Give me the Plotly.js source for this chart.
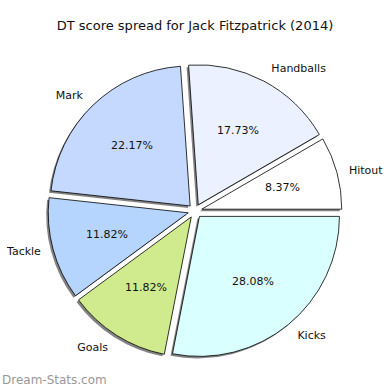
<!DOCTYPE html>
<html><head><meta charset="utf-8">
<script src="https://cdn.plot.ly/plotly-3.0.1.min.js"></script>
<style>html,body{margin:0;padding:0;background:#fff}#chart{width:390px;height:390px}</style>
</head><body><div id="chart"></div>
<script>
var categories = ["Hitout", "Handballs", "Mark", "Tackle", "Goals", "Kicks"];
var values = [8.37, 17.73, 22.17, 11.82, 11.82, 28.08];
var colors = ["#ffffff", "#ebf1ff", "#c5d9ff", "#b5d5ff", "#d0eb8d", "#daffff"];
var titleText = "DT score spread for Jack Fitzpatrick (2014)";
var watermark = "Dream-Stats.com";

var total = values.reduce(function(a,b){return a+b;}, 0);
var rot = 90 - 360 * values[0] / total;
var PULL = 0.05;
var pulls = categories.map(function(){return PULL;});
var W = 390;
function box(cx, cy, half) {
  return {x: [(cx - half)/W, (cx + half)/W], y: [1 - (cy + half)/W, 1 - (cy - half)/W]};
}
var CX = 195, CY = 211, HALF = 147;
var common = {type: "pie", labels: categories, values: values, sort: false,
  direction: "counterclockwise", rotation: rot, pull: pulls, hoverinfo: "none", showlegend: false};
var clear = categories.map(function(){return "rgba(0,0,0,0)";});

var shadow = Object.assign({}, common, {
  domain: box(CX - 2, CY + 2, HALF),
  marker: {colors: categories.map(function(){return "rgba(90,90,90,0.75)";}), line: {width: 0}},
  textinfo: "none"
});
var main = Object.assign({}, common, {
  domain: box(CX, CY, HALF),
  marker: {colors: colors, line: {color: "#000", width: 0.8}},
  textinfo: "none"
});
var outer = Object.assign({}, common, {
  domain: box(CX, CY, HALF + 9),
  marker: {colors: clear, line: {width: 0}},
  textinfo: "label", textposition: "outside",
  textfont: {family: "DejaVu Sans", size: 11, color: "#111"}
});

// percentage labels placed at 0.6 of the radius along each slice's bisector
var R = HALF / (1 + PULL);
var cum = 0;
var pctAnn = values.map(function(v) {
  var mid = (cum + v / 2) / total * 2 * Math.PI;
  cum += v;
  var d = (0.6 + PULL) * R;
  return {text: v.toFixed(2) + "%", xref: "paper", yref: "paper",
    x: (CX + d * Math.cos(mid)) / W, y: 1 - (CY - d * Math.sin(mid)) / W,
    xanchor: "center", yanchor: "middle", showarrow: false,
    font: {family: "DejaVu Sans", size: 11, color: "#111"}};
});

var layout = {
  width: 390, height: 390, margin: {l: 0, r: 0, t: 0, b: 0},
  paper_bgcolor: "#fff", showlegend: false,
  title: {text: titleText, x: 0.5, xanchor: "center", y: 1 - 25/390, yanchor: "middle",
    font: {family: "DejaVu Sans", size: 13, color: "#111"}},
  annotations: pctAnn.concat([{text: watermark, xref: "paper", yref: "paper", x: 0, y: 1 - 380/390,
    xanchor: "left", yanchor: "middle", showarrow: false,
    font: {family: "DejaVu Sans", size: 12, color: "#999"}}])
};
Plotly.newPlot("chart", [shadow, main, outer], layout, {staticPlot: true});
</script></body></html>
